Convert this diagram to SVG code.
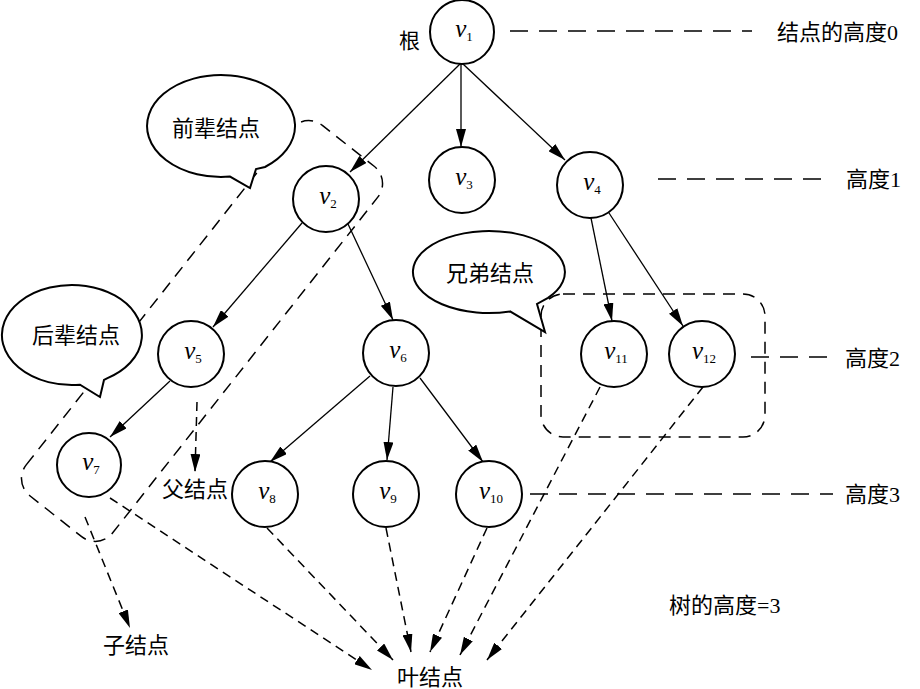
<svg xmlns="http://www.w3.org/2000/svg" width="920" height="689" viewBox="0 0 920 689">
<style>
.node circle{fill:#fff;stroke:#000;stroke-width:2}
.nl{font-family:"Liberation Serif","Noto Sans CJK SC",serif;font-size:25px;font-style:italic;text-anchor:middle}
.sub{font-size:13px;font-style:normal}
.cn{font-family:"Liberation Serif","Noto Sans CJK SC",serif;font-size:22px;dominant-baseline:central}
.mid{text-anchor:middle}
.edge{stroke:#000;stroke-width:1.3;fill:none;marker-end:url(#ah)}
.dedge{stroke:#000;stroke-width:1.5;fill:none;stroke-dasharray:9 6;marker-end:url(#ah)}
.hl{stroke:#000;stroke-width:1.5;fill:none;stroke-dasharray:18 11}
.box{stroke:#000;stroke-width:1.5;fill:none;stroke-dasharray:12 8}
.bubble{fill:#fff;stroke:#000;stroke-width:2;stroke-linejoin:miter}
</style>
<defs>
<marker id="ah" viewBox="0 0 18 10" refX="18" refY="5" markerWidth="18" markerHeight="10" markerUnits="userSpaceOnUse" orient="auto">
<path d="M0,0 L18,5 L0,10 Z" fill="#000"/>
</marker>
</defs>
<rect width="920" height="689" fill="#fff"/>

<g id="groups">
<rect class="box" x="-236" y="-55" width="472" height="110" rx="22" transform="translate(202,331) rotate(-51.7)"/>
<rect class="box" x="541" y="294" width="224" height="143" rx="22"/>
</g>

<g id="connectors">
<line class="edge" x1="460" y1="64" x2="350" y2="172"/>
<line class="edge" x1="461" y1="64" x2="461" y2="147"/>
<line class="edge" x1="463" y1="64" x2="565" y2="160"/>
<line class="edge" x1="302" y1="223" x2="213" y2="327"/>
<line class="edge" x1="348" y1="224" x2="393" y2="320"/>
<line class="edge" x1="170" y1="381" x2="110" y2="437"/>
<line class="edge" x1="370" y1="376" x2="270" y2="462"/>
<line class="edge" x1="393" y1="387" x2="387" y2="460"/>
<line class="edge" x1="420" y1="378" x2="483" y2="462"/>
<line class="edge" x1="591" y1="218" x2="612" y2="321"/>
<line class="edge" x1="609" y1="213" x2="683" y2="326"/>
<line class="dedge" x1="197" y1="402" x2="195" y2="472"/>
<line class="dedge" x1="85" y1="517" x2="130" y2="628"/>
<line class="dedge" x1="110" y1="498" x2="372" y2="670"/>
<line class="dedge" x1="267" y1="528" x2="393" y2="660"/>
<line class="dedge" x1="386" y1="528" x2="411" y2="652"/>
<line class="dedge" x1="487" y1="528" x2="430" y2="652"/>
<line class="dedge" x1="600" y1="387" x2="460" y2="655"/>
<line class="dedge" x1="703" y1="387" x2="487" y2="660"/>
<line class="hl" x1="510" y1="31" x2="752" y2="31"/>
<line class="hl" x1="658" y1="179" x2="828" y2="179"/>
<line class="hl" x1="751" y1="357" x2="832" y2="357"/>
<line class="hl" x1="530" y1="494" x2="833" y2="494"/>
</g>

<g id="v1" class="node"><circle cx="462" cy="32" r="32"/><text class="nl" x="464" y="37">v<tspan class="sub" dy="4">1</tspan></text></g>
<g id="v2" class="node"><circle cx="326" cy="199" r="33"/><text class="nl" x="328" y="204">v<tspan class="sub" dy="4">2</tspan></text></g>
<g id="v3" class="node"><circle cx="462" cy="180" r="33"/><text class="nl" x="464" y="185">v<tspan class="sub" dy="4">3</tspan></text></g>
<g id="v4" class="node"><circle cx="590" cy="185" r="33"/><text class="nl" x="592" y="190">v<tspan class="sub" dy="4">4</tspan></text></g>
<g id="v5" class="node"><circle cx="191" cy="354" r="33"/><text class="nl" x="193" y="359">v<tspan class="sub" dy="4">5</tspan></text></g>
<g id="v6" class="node"><circle cx="396" cy="353" r="33"/><text class="nl" x="398" y="358">v<tspan class="sub" dy="4">6</tspan></text></g>
<g id="v7" class="node"><circle cx="89" cy="465" r="32"/><text class="nl" x="91" y="470">v<tspan class="sub" dy="4">7</tspan></text></g>
<g id="v8" class="node"><circle cx="265" cy="494" r="33"/><text class="nl" x="267" y="499">v<tspan class="sub" dy="4">8</tspan></text></g>
<g id="v9" class="node"><circle cx="386" cy="494" r="33"/><text class="nl" x="388" y="499">v<tspan class="sub" dy="4">9</tspan></text></g>
<g id="v10" class="node"><circle cx="489" cy="494" r="33"/><text class="nl" x="491" y="499">v<tspan class="sub" dy="4">10</tspan></text></g>
<g id="v11" class="node"><circle cx="614" cy="354" r="33"/><text class="nl" x="616" y="359">v<tspan class="sub" dy="4">11</tspan></text></g>
<g id="v12" class="node"><circle cx="702" cy="354" r="33"/><text class="nl" x="704" y="359">v<tspan class="sub" dy="4">12</tspan></text></g>

<g id="bubble-ancestor">
<path class="bubble" d="M265,167 A74,51 0 1 0 230,176.6 L250,188 L256,169 Z"/>
<text class="cn mid" x="216" y="128">前辈结点</text>
</g>
<g id="bubble-descendant">
<path class="bubble" d="M107,378.3 A70,50 0 1 0 80,384.7 L100,397 L104,380 Z"/>
<text class="cn mid" x="76" y="335">后辈结点</text>
</g>
<g id="bubble-sibling">
<path class="bubble" d="M548,297.8 A76,41 0 1 0 510,311.4 L545,332 L537,304 Z"/>
<text class="cn mid" x="490" y="273">兄弟结点</text>
</g>

<g id="labels">
<text class="cn" x="399" y="41" style="font-size:21px">根</text>
<text class="cn" x="777" y="32">结点的高度0</text>
<text class="cn" x="846" y="179">高度1</text>
<text class="cn" x="845" y="358">高度2</text>
<text class="cn" x="845" y="494">高度3</text>
<text class="cn" x="162" y="489">父结点</text>
<text class="cn" x="103" y="645">子结点</text>
<text class="cn" x="397" y="677">叶结点</text>
<text class="cn" x="669" y="605">树的高度=3</text>
</g>
</svg>
